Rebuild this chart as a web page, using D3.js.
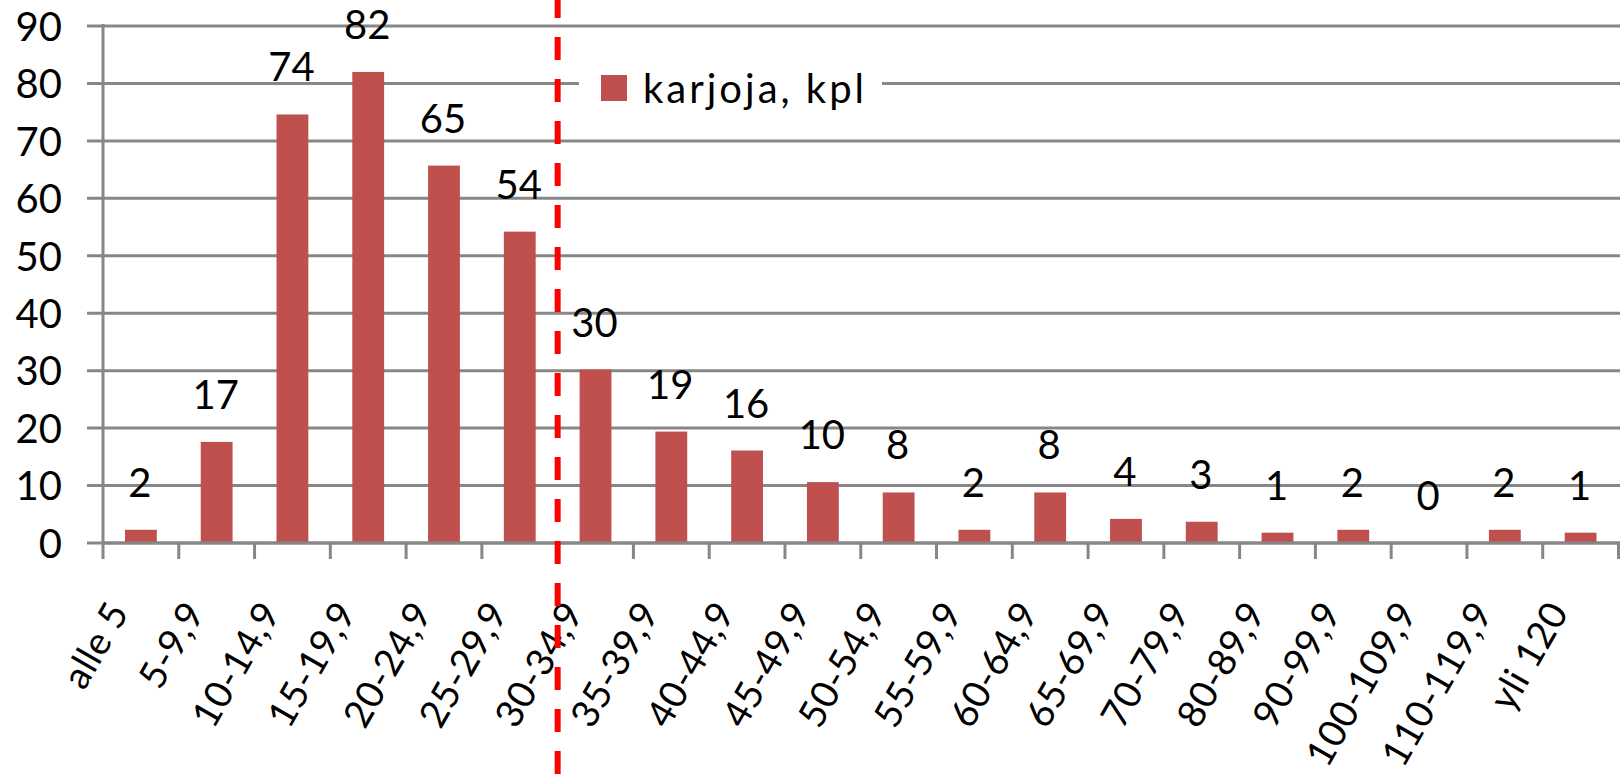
<!DOCTYPE html>
<html>
<head>
<meta charset="utf-8">
<script src="https://cdn.jsdelivr.net/npm/d3@7"></script>
<style>
  html, body { margin: 0; padding: 0; background: #ffffff; }
  svg { display: block; }
  text { font-family: Lato, "Open Sans", sans-serif; fill: #000; }
</style>
</head>
<body>
<svg id="chart" width="1620" height="779"></svg>
<script>
// ---- data ----
const categories = ["alle 5", "5-9,9", "10-14,9", "15-19,9", "20-24,9", "25-29,9",
  "30-34,9", "35-39,9", "40-44,9", "45-49,9", "50-54,9", "55-59,9", "60-64,9",
  "65-69,9", "70-79,9", "80-89,9", "90-99,9", "100-109,9", "110-119,9", "yli 120"];
const values = [2.3, 17.6, 74.6, 82.0, 65.7, 54.2, 30.2, 19.4, 16.1, 10.6, 8.8, 2.3, 8.8,
  4.2, 3.7, 1.8, 2.3, 0, 2.3, 1.8];
const valueLabels = ["2", "17", "74", "82", "65", "54", "30", "19", "16", "10", "8", "2", "8",
  "4", "3", "1", "2", "0", "2", "1"];
const yTicks = [0, 10, 20, 30, 40, 50, 60, 70, 80, 90];
const seriesName = "karjoja, kpl";
const dividerCategory = "30-34,9";

// ---- layout ----
const W = 1620, H = 779;
const mLeft = 103, mRight = 1618.5, mTop = 26, mBottom = 543;
const svg = d3.select("#chart");

const xCat = d3.scaleBand().domain(categories).range([mLeft, mRight]).padding(0);
const xBar = d3.scaleBand().domain(categories).range([mLeft, mRight])
  .paddingInner(0.58).paddingOuter(0.29);
const y = d3.scaleLinear().domain([0, 90]).range([mBottom, mTop]);

const gridColor = "#878787";
const barColor = "#C0504D";

// gridlines
svg.append("g").selectAll("line").data(yTicks).join("line")
  .attr("x1", mLeft - 16).attr("x2", W)
  .attr("y1", d => y(d)).attr("y2", d => y(d))
  .attr("stroke", gridColor).attr("stroke-width", 3);

// y tick labels
svg.append("g").selectAll("text").data(yTicks).join("text")
  .attr("x", 62).attr("y", d => y(d)).attr("dy", "0.37em")
  .attr("text-anchor", "end").attr("font-size", 40)
  .text(d => d);

// bars
svg.append("g").selectAll("rect").data(categories).join("rect")
  .attr("x", d => xBar(d)).attr("width", xBar.bandwidth())
  .attr("y", (d, i) => y(values[i]))
  .attr("height", (d, i) => y(0) - y(values[i]))
  .attr("fill", barColor);

// y axis line
svg.append("line")
  .attr("x1", mLeft).attr("x2", mLeft).attr("y1", mTop - 2).attr("y2", mBottom + 16)
  .attr("stroke", gridColor).attr("stroke-width", 3);

// x axis line
svg.append("line")
  .attr("x1", mLeft).attr("x2", W).attr("y1", y(0)).attr("y2", y(0))
  .attr("stroke", gridColor).attr("stroke-width", 3);

// x ticks at category boundaries
const boundaries = categories.map(c => xCat(c) + xCat.step());
svg.append("g").selectAll("line").data(boundaries).join("line")
  .attr("x1", d => d).attr("x2", d => d)
  .attr("y1", y(0)).attr("y2", y(0) + 16)
  .attr("stroke", gridColor).attr("stroke-width", 3);

// x labels rotated
svg.append("g").selectAll("text").data(categories).join("text")
  .attr("transform", d => `translate(${xCat(d) + xCat.bandwidth() / 2 - 11},612) rotate(-60)`)
  .attr("text-anchor", "end").attr("font-size", 38)
  .attr("letter-spacing", 0.5)
  .text(d => d);

// data labels
svg.append("g").selectAll("text").data(categories).join("text")
  .attr("x", d => xBar(d) + xBar.bandwidth() / 2 - 1)
  .attr("y", (d, i) => y(values[i]) - 33)
  .attr("text-anchor", "middle").attr("font-size", 40)
  .text((d, i) => valueLabels[i]);

// legend
const lg = svg.append("g");
lg.append("rect").attr("x", 579).attr("y", 62).attr("width", 303).attr("height", 46).attr("fill", "#fff");
lg.append("rect").attr("x", 601).attr("y", 75).attr("width", 26).attr("height", 26).attr("fill", barColor);
lg.append("text").attr("x", 643).attr("y", 103).attr("font-size", 40)
  .attr("letter-spacing", 3).text(seriesName);

// dashed divider
const xd = xCat(dividerCategory);
svg.append("line")
  .attr("x1", xd).attr("x2", xd).attr("y1", -5).attr("y2", H)
  .attr("stroke", "#FF0000").attr("stroke-width", 6)
  .attr("stroke-dasharray", "23,19");
</script>
</body>
</html>
